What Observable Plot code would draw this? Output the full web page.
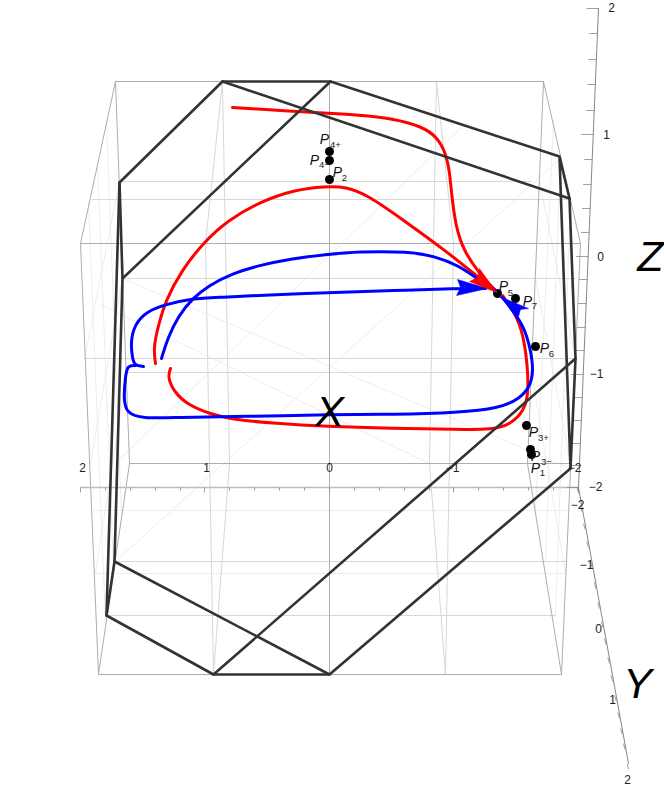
<!DOCTYPE html>
<html><head><meta charset="utf-8">
<script src="https://cdn.jsdelivr.net/npm/d3@7"></script>
<script src="https://cdn.jsdelivr.net/npm/@observablehq/plot@0.6"></script>
<style>html,body{margin:0;padding:0;background:#fff}svg{display:block;opacity:.999}</style>
</head><body><div id="chart"></div>
<script>
const frameDark = [
  [[115,81],[543,81]], [[80,243],[580,243]], [[129,463],[570,463]], [[98,674],[561,674]],
  [[329,81],[329,674]],
  [[115,81],[80,243],[98,674],[129,463],[115,81]],
  [[543,81],[580,243],[561,674],[527,463],[543,81]]
];
const axisLines = [
  [[598,8],[578,487]], [[578,487],[628,763]]
];
const xAxisLine = [[[80,487],[578,487]]];
const frameMid = [
  [[222,81],[205,243],[213,674],[229,463],[222,81]],
  [[436,81],[453,243],[445,674],[429,463],[436,81]],
  [[119,181],[530,181]], [[122,278],[575,278]], [[84,358],[575,358]], [[126,372],[532,372]],
  [[92,199],[570,199]], [[106,615],[555,615]], [[115,561],[566,561]]
];
const frameLight = [
  [[93,510],[566,510]], [[96,573],[565,573]],
  [[115,561],[560,158]], [[118,460],[470,118]], [[122,278],[570,468]], [[100,304],[429,463]],
  [[119,181],[84,358]], [[122,278],[90,463]], [[126,372],[95,573]],
  [[539,181],[575,358]], [[535,278],[570,463]], [[531,372],[565,573]],
  [[106,121],[121,516]], [[97,162],[113,568]], [[88,202],[105,621]],
  [[553,121],[535,510]], [[560,160],[545,561]], [[570,199],[555,615]]
];
const solidEdges = [
  [[222,81],[330,81],[559,156],[569,198],[575,358],[570,468],[559,156]],
  [[222,81],[119,182],[106,615],[213,674],[329,674],[570,468]],
  [[119,182],[122,278],[114,561],[329,674]],
  [[106,615],[114,561]],
  [[122,278],[330,81]], [[222,81],[569,198]], [[213,674],[575,358]]
];
const redCurves = [
  [[232,107],[280,110],[325,112.7],[358,114.5],[392,118],[422,126],[437,137],[445,152],[449,170],[451,193],[455,225],[463,250],[478,272],[495,290]],
  [[155,363],[153,348],[157,328],[165,300],[181,270],[203,242],[227,220],[260,201],[295,189],[325,186],[345,186],[368,195],[402,219],[445,250],[478,277],[495,290]],
  [[170,368],[167,377],[174,392],[187,404],[208,413],[232,419],[275,423],[325,426],[392,428],[458,429],[492,429],[510,424],[524,410],[528,392],[527,365],[523,335],[515,313],[502,295]]
];
const blueCurves = [
  [[161,358],[167,338],[178,315],[192,298],[208,285],[232,273],[258,265],[292,258],[325,254],[358,251],[408,251],[435,256],[458,265],[475,277],[495,290]],
  [[143,366],[134,365],[132,358],[130,342],[134,324],[146,311],[165,304],[192,298],[218,297],[275,294],[335,292],[392,290],[458,288],[485,288]],
  [[135,365],[127,365],[125,375],[123,398],[126,413],[142,418],[175,417],[242,416],[335,414],[392,414],[458,412],[498,408],[520,398],[530,385],[533,370],[530,348],[523,325],[512,310],[502,297]]
];
const redHeads = [[[496,292],[469,281],[477,277],[479,268],[496,292]]];
const blueHeads = [
  [[487,288],[456,295],[460,287],[457,279],[487,288]],
  [[499,296],[528,308],[520,309],[518,316],[499,296]]
];
const pointX = [329,329,329,497,515,535,526,530,531];
const pointY = [151,160,179,293,298,346,425,449,454];
const labelMain = [[324,139],[314,160],[337,172],[503,286],[527,301],[544,348],[533,432],[535,456],[535,468]];
const labelSub = ["4+","4−","2","5","7","6","3+","3−","1"];
const labelSubPos = [[335,144],[324,164],[344,177],[510,292],[534,305],[551,353],[543,437],[546,461],[542,472]];
const tickText = [
  ["2",82,468],["1",206,468],["0",329,468],["−1",452,468],["−2",574,468],
  ["2",611,8],["1",606,135],["0",600,257],["−1",596,374],["−2",595,487],
  ["−2",577,505],["−1",586,565],["0",598,629],["1",612,700],["2",627,780]
];
const axisTitles = [["X",329,412],["Y",637,684],["Z",650,257]];
const xTickPos = [80,105,130,155,180,204,229,254,279,304,329,354,379,404,429,453,478,503,528,553,578];
const zTickPos = [8,33,59,84,110,134,159,184,208,232,256,279,303,327,350,374,397,420,443,465,487];
const zTickMajor = [8,134,256,374,487];
const yTickPos = [487,505,523,541,561,582,602,621,638,657,675,695,712,728,743,763];

const rows = polys => polys.flatMap((p,i) => p.map(([x,y]) => ({x,y,i})));
const xTicks = xTickPos.map((x,i) => ({x1:x,y1:487,x2:x,y2:i%5===0?492:490}));
const zX = y => 598 - 20*(y-8)/479;
const zTicks = zTickPos.map(y => ({x1:zX(y),y1:y,x2:zX(y)-(zTickMajor.includes(y)?12:8),y2:y}));
const yX = y => 578 + 50*(y-487)/276;
const yTicks = yTickPos.map(y => ({x1:yX(y)-1.5,y1:y,x2:yX(y)+0.2,y2:y+6}));
const tickRows = [...xTicks,...zTicks,...yTicks];

const stroke = (polys,o) => Plot.line(rows(polys),{x:"x",y:"y",z:"i",strokeLinejoin:"round",strokeLinecap:"round",...o});
const font = "Liberation Sans, Arial, sans-serif";

const chart = Plot.plot({
  width:664, height:790, margin:0,
  x:{domain:[0,664],range:[0,664],axis:null},
  y:{domain:[0,790],range:[0,790],axis:null},
  style:{fontFamily:font,background:"#fff"},
  marks:[
    stroke(frameLight,{stroke:"#e8e8e8",strokeWidth:0.8}),
    stroke(frameMid,{stroke:"#d8d8d8",strokeWidth:1}),
    stroke(frameDark,{stroke:"#adadad",strokeWidth:1}),
    stroke(xAxisLine,{stroke:"#bdbdbd",strokeWidth:1.5}),
    stroke(axisLines,{stroke:"#777",strokeWidth:0.9}),
    Plot.link(tickRows,{x1:"x1",y1:"y1",x2:"x2",y2:"y2",stroke:"#888",strokeWidth:0.8}),
    Plot.dot(pointX.map((x,i)=>({x,y:pointY[i]})),{x:"x",y:"y",r:4.5,fill:"#000",stroke:"none"}),
    stroke(redCurves,{stroke:"#ff0000",strokeWidth:3,curve:"basis"}),
    stroke(blueCurves,{stroke:"#0000ff",strokeWidth:3,curve:"basis"}),
    Plot.line(rows(blueHeads),{x:"x",y:"y",z:"i",fill:"#0000ff",stroke:"#0000ff",strokeWidth:0.5}),
    Plot.line(rows(redHeads),{x:"x",y:"y",z:"i",fill:"#ff0000",stroke:"#ff0000",strokeWidth:0.5}),
    stroke(solidEdges,{stroke:"#333",strokeWidth:2.6}),
    Plot.text(labelMain,{x:d=>d[0],y:d=>d[1],text:()=>"P",fontSize:14,fontStyle:"italic",fill:"#111"}),
    Plot.text(labelSubPos,{x:d=>d[0],y:d=>d[1],text:(d,i)=>labelSub[i],fontSize:9.5,fill:"#222"}),
    Plot.text(tickText,{x:d=>d[1],y:d=>d[2],text:d=>d[0],fontSize:12,fill:"#222"}),
    Plot.text(axisTitles,{x:d=>d[1],y:d=>d[2],text:d=>d[0],fontSize:43,fontStyle:"italic",fill:"#000"})
  ]
});
document.getElementById("chart").appendChild(chart);
</script>
</body></html>
